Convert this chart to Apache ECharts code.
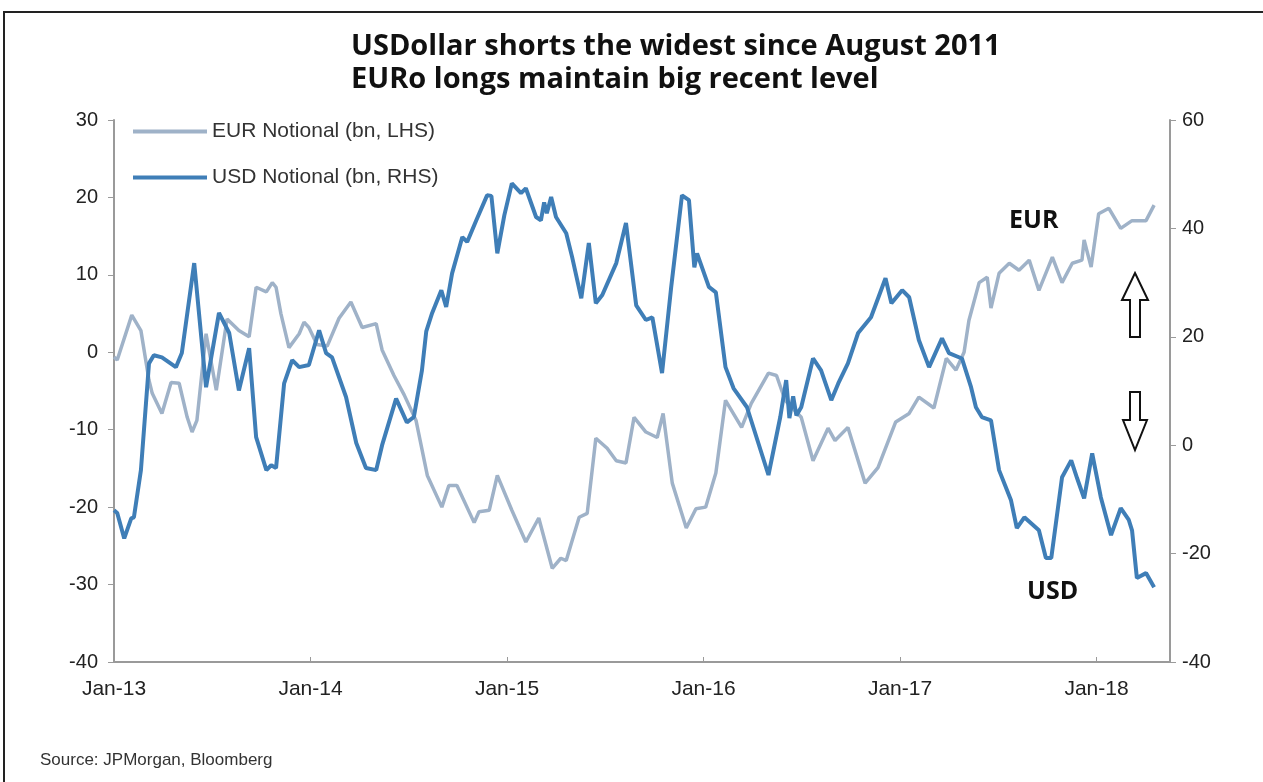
<!DOCTYPE html>
<html>
<head>
<meta charset="utf-8">
<script src="https://cdn.jsdelivr.net/npm/echarts@6/dist/echarts.min.js"></script>
<style>
  html, body { margin: 0; padding: 0; background: #fff; }
  #chart { width: 1263px; height: 782px; }
</style>
</head>
<body>
<div id="chart"></div>
<script>
// EUR notional (bn, LHS)
const eurDates = ['2013-01-01','2013-01-07','2013-02-03','2013-02-20','2013-03-07','2013-03-13','2013-03-31','2013-04-17','2013-05-02','2013-05-17','2013-05-26','2013-06-04','2013-06-21','2013-07-10','2013-07-30','2013-08-21','2013-09-09','2013-09-22','2013-10-11','2013-10-22','2013-10-29','2013-11-07','2013-11-22','2013-12-11','2013-12-20','2013-12-29','2014-01-13','2014-02-01','2014-02-23','2014-03-17','2014-04-07','2014-05-03','2014-05-14','2014-06-05','2014-06-24','2014-07-16','2014-08-06','2014-09-02','2014-09-15','2014-09-30','2014-11-01','2014-11-10','2014-11-29','2014-12-14','2015-01-10','2015-02-05','2015-03-01','2015-03-26','2015-04-11','2015-04-21','2015-05-15','2015-05-30','2015-06-15','2015-07-06','2015-07-23','2015-08-10','2015-08-25','2015-09-16','2015-10-07','2015-10-18','2015-11-04','2015-11-30','2015-12-18','2016-01-05','2016-01-24','2016-02-11','2016-03-12','2016-03-30','2016-05-01','2016-05-16','2016-06-01','2016-07-01','2016-07-23','2016-08-20','2016-09-02','2016-09-26','2016-10-28','2016-11-21','2016-12-24','2017-01-18','2017-02-05','2017-03-05','2017-03-28','2017-04-15','2017-04-30','2017-05-09','2017-05-28','2017-06-12','2017-06-19','2017-07-04','2017-07-23','2017-08-10','2017-08-29','2017-09-16','2017-10-11','2017-10-29','2017-11-17','2017-12-05','2017-12-09','2017-12-22','2018-01-05','2018-01-24','2018-02-15','2018-03-08','2018-04-03','2018-04-18'];
const eurValues = [-0.6,-1,4.8,2.8,-3.6,-5.3,-7.9,-3.9,-4,-8.4,-10.3,-8.8,2.4,-4.9,4.3,2.8,2,8.4,7.8,9,8.4,5,0.6,2.4,3.9,3.2,1,0.8,4.4,6.5,3.2,3.7,0.3,-3,-5.5,-8.8,-15.9,-20,-17.2,-17.2,-22,-20.6,-20.4,-15.9,-20.4,-24.5,-21.4,-27.9,-26.6,-26.9,-21.3,-20.8,-11.1,-12.4,-14,-14.3,-8.4,-10.3,-11,-7.9,-16.9,-22.7,-20.2,-20,-15.6,-6.2,-9.7,-6.6,-2.7,-3,-6.2,-8.4,-14,-9.8,-11.4,-9.7,-16.9,-14.9,-9,-7.9,-5.8,-7.2,-0.8,-2.3,0,4.1,9,9.7,5.7,10.2,11.5,10.6,11.9,8,12.3,9,11.5,11.9,14.5,11,17.9,18.6,16,17,17,19];

// USD notional (bn, RHS)
const usdDates = ['2013-01-01','2013-01-07','2013-01-20','2013-02-02','2013-02-07','2013-02-20','2013-03-07','2013-03-16','2013-03-31','2013-04-26','2013-05-07','2013-05-30','2013-06-21','2013-07-15','2013-08-03','2013-08-21','2013-09-09','2013-09-22','2013-10-11','2013-10-20','2013-10-29','2013-11-13','2013-11-28','2013-12-11','2013-12-29','2014-01-17','2014-01-30','2014-02-10','2014-03-08','2014-03-27','2014-04-14','2014-05-03','2014-05-14','2014-06-09','2014-06-29','2014-07-12','2014-07-27','2014-08-04','2014-08-15','2014-09-01','2014-09-10','2014-09-21','2014-10-10','2014-10-19','2014-11-05','2014-11-25','2014-12-03','2014-12-14','2014-12-27','2015-01-10','2015-01-27','2015-02-05','2015-02-24','2015-03-05','2015-03-11','2015-03-16','2015-03-24','2015-04-02','2015-04-21','2015-05-02','2015-05-19','2015-06-02','2015-06-15','2015-06-27','2015-07-23','2015-08-10','2015-08-29','2015-09-16','2015-09-28','2015-10-16','2015-11-02','2015-11-22','2015-12-05','2015-12-15','2015-12-20','2016-01-11','2016-01-24','2016-02-11','2016-02-26','2016-03-22','2016-05-01','2016-05-23','2016-06-03','2016-06-09','2016-06-16','2016-06-22','2016-07-01','2016-07-23','2016-08-07','2016-08-26','2016-09-08','2016-09-26','2016-10-15','2016-11-08','2016-12-05','2016-12-16','2017-01-05','2017-01-18','2017-02-05','2017-02-24','2017-03-20','2017-04-02','2017-04-26','2017-05-13','2017-05-22','2017-06-02','2017-06-19','2017-07-04','2017-07-26','2017-08-06','2017-08-20','2017-09-16','2017-09-29','2017-10-09','2017-10-29','2017-11-15','2017-11-26','2017-12-09','2017-12-24','2018-01-09','2018-01-28','2018-02-15','2018-03-02','2018-03-08','2018-03-17','2018-04-03','2018-04-18'];
const usdValues = [-12,-12.5,-17.2,-13.5,-13.3,-4.6,15.1,16.6,16.2,14.4,17,33.6,10.7,24.4,20.7,10.1,17.9,1.5,-4.6,-3.7,-4.2,11.4,15.7,14.4,14.8,21.2,17,16.2,8.9,0.4,-4.2,-4.6,0,8.6,4.2,5.2,13.8,21,24.4,28.6,25.5,31.7,38.4,37.5,41.5,46.1,46,35.4,42.4,48.3,46.5,47.4,42.1,41.5,44.8,42.8,45.8,42.1,39.1,34.7,27.1,37.3,26.2,27.7,33.6,41,25.8,23.1,23.6,13.3,29.2,46.1,45.2,32.8,35.4,29.2,28.2,14.4,10.5,7,-5.5,5.2,12,5,9,5.5,7,16,13.8,8.3,11.4,15.1,20.7,23.6,30.8,26.2,28.6,27.3,19.4,14.4,19.7,17,16,10.7,7,5.2,4.6,-4.6,-10.1,-15.3,-13.3,-15.7,-20.8,-20.8,-5.9,-2.8,-6.1,-9.8,-1.5,-9.6,-16.6,-11.6,-13.8,-15.7,-24.5,-23.6,-26.2];

const yearTicks = [2013, 2014, 2015, 2016, 2017, 2018];

// date string -> fractional year
const toYear = (s) => {
    const d = new Date(s + 'T00:00:00Z');
    const y = d.getUTCFullYear();
    const start = Date.UTC(y, 0, 1), end = Date.UTC(y + 1, 0, 1);
    return y + (d.getTime() - start) / (end - start);
};
const pair = (dates, vals) => dates.map((d, i) => [toYear(d), vals[i]]);

const axisCol = '#9a9a9a';
const sans = 'Liberation Sans, Arial, sans-serif';
const labelStyle = { color: '#222', fontSize: 20, fontFamily: sans };

const chart = echarts.init(document.getElementById('chart'));
const option = {
    backgroundColor: '#fff',
    animation: false,
    title: {
        text: 'USDollar shorts the widest since August 2011\nEURo longs maintain big recent level',
        left: 346,
        top: 25,
        textStyle: {
            fontFamily: 'Open Sans, sans-serif',
            fontWeight: 'bold',
            fontSize: 29,
            lineHeight: 33,
            color: '#111'
        }
    },
    legend: {
        orient: 'vertical',
        left: 128,
        top: 116,
        itemWidth: 74,
        itemHeight: 4,
        itemGap: 25,
        icon: 'rect',
        textStyle: { color: '#333', fontSize: 21, fontFamily: sans },
        data: ['EUR Notional (bn, LHS)', 'USD Notional (bn, RHS)']
    },
    grid: { left: 114, right: 93, top: 120, bottom: 120 },
    xAxis: {
        type: 'value',
        min: 2013,
        max: 2013 + (1170 - 114) / 196.5,
        interval: 1,
        splitLine: { show: false },
        axisLine: { onZero: false, lineStyle: { color: axisCol, width: 2 } },
        axisTick: { inside: true, length: 5, lineStyle: { color: axisCol } },
        axisLabel: Object.assign({}, labelStyle, {
            margin: 17,
            fontSize: 21,
            showMaxLabel: false,
            formatter: (v) => yearTicks.includes(v) ? 'Jan-' + String(v).slice(2) : ''
        })
    },
    yAxis: [{
        type: 'value',
        min: -40, max: 30, interval: 10,
        splitLine: { show: false },
        axisLine: { show: true, lineStyle: { color: axisCol, width: 2 } },
        axisTick: { show: true, length: 6, lineStyle: { color: axisCol } },
        axisLabel: Object.assign({ margin: 16 }, labelStyle)
    }, {
        type: 'value',
        min: -40, max: 60, interval: 20,
        position: 'right',
        splitLine: { show: false },
        axisLine: { show: true, lineStyle: { color: axisCol, width: 2 } },
        axisTick: { show: true, length: 6, lineStyle: { color: axisCol } },
        axisLabel: Object.assign({ margin: 12 }, labelStyle)
    }],
    series: [{
        name: 'EUR Notional (bn, LHS)',
        type: 'line',
        yAxisIndex: 0,
        symbol: 'none',
        color: '#9fb2c8',
        lineStyle: { width: 3.5, color: '#9fb2c8' },
        data: pair(eurDates, eurValues)
    }, {
        name: 'USD Notional (bn, RHS)',
        type: 'line',
        yAxisIndex: 1,
        symbol: 'none',
        color: '#3f7eb7',
        lineStyle: { width: 4, color: '#3f7eb7' },
        data: pair(usdDates, usdValues),
        z: 3
    }],
    graphic: [
        // outer frame
        { type: 'rect', shape: { x: 4, y: 12, width: 1300, height: 800 }, style: { fill: 'none', stroke: '#222', lineWidth: 2 }, silent: true },
        { type: 'text', left: 1009, top: 208, style: { text: 'EUR', fontSize: 25, fontWeight: 'bold', fontFamily: 'Open Sans, sans-serif', fill: '#111' } },
        { type: 'text', left: 1027, top: 579, style: { text: 'USD', fontSize: 25, fontWeight: 'bold', fontFamily: 'Open Sans, sans-serif', fill: '#111' } },
        // up arrow
        { type: 'polygon', shape: { points: [[1135, 273], [1148, 300], [1140, 300], [1140, 337], [1130, 337], [1130, 300], [1122, 300]] }, style: { fill: '#fff', stroke: '#111', lineWidth: 2 } },
        // down arrow
        { type: 'polygon', shape: { points: [[1130, 392], [1140, 392], [1140, 420], [1147, 420], [1135, 450], [1123, 420], [1130, 420]] }, style: { fill: '#fff', stroke: '#111', lineWidth: 2 } },
        { type: 'text', left: 40, top: 752, style: { text: 'Source: JPMorgan, Bloomberg', fontSize: 17, fontFamily: sans, fill: '#333' } }
    ]
};
chart.setOption(option);
</script>
</body>
</html>
